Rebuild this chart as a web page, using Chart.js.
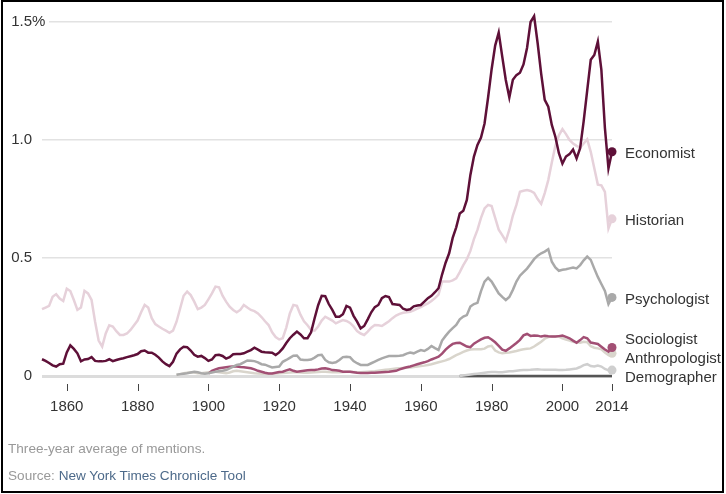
<!DOCTYPE html>
<html>
<head>
<meta charset="utf-8">
<script src="https://cdn.jsdelivr.net/npm/chart.js@4.4.1/dist/chart.umd.min.js"></script>
<style>
  html, body { margin: 0; padding: 0; background: #fff; }
  #wrap { position: relative; width: 726px; height: 494px; overflow: hidden; }
  #frame { position: absolute; left: 1px; top: 0; width: 719px; height: 489px; border: 2px solid #000; pointer-events: none; }
  .note { position: absolute; left: 8px; font: 13.6px "Liberation Sans", Arial, sans-serif; color: #999; white-space: nowrap; }
  .note a { color: #4d6a8a; text-decoration: none; }
</style>
</head>
<body>
<div id="wrap">
  <canvas id="chart"></canvas>
  <div class="note" style="top:441px">Three-year average of mentions.</div>
  <div class="note" style="top:468px">Source: <a>New York Times Chronicle Tool</a></div>
  <div id="frame"></div>
</div>
<script>
// x axis ticks and y axis ticks
const xTicks = [1860, 1880, 1900, 1920, 1940, 1960, 1980, 2000, 2014];
const yTicks = [0, 0.5, 1.0, 1.5];

// series values, one value a year, starting at each series' first year
const economistStart = 1853;
const economist = [
  0.071, 0.064, 0.055, 0.045, 0.040, 0.050, 0.052, 0.100, 0.130, 0.115, // 1853-1862
  0.096, 0.062, 0.070, 0.072, 0.080, 0.064, 0.062, 0.062, 0.064, 0.071, // 1863-1872
  0.063, 0.068, 0.072, 0.075, 0.080, 0.084, 0.088, 0.093, 0.105, 0.108, // 1873-1882
  0.099, 0.099, 0.090, 0.078, 0.062, 0.050, 0.042, 0.060, 0.095, 0.113, // 1883-1892
  0.124, 0.122, 0.108, 0.090, 0.082, 0.085, 0.076, 0.064, 0.070, 0.088, // 1893-1902
  0.090, 0.085, 0.074, 0.080, 0.092, 0.093, 0.093, 0.096, 0.103, 0.110, // 1903-1912
  0.120, 0.112, 0.103, 0.101, 0.100, 0.099, 0.089, 0.100, 0.117, 0.140, // 1913-1922
  0.160, 0.175, 0.188, 0.176, 0.160, 0.160, 0.185, 0.245, 0.300, 0.340, // 1923-1932
  0.338, 0.305, 0.280, 0.251, 0.251, 0.262, 0.297, 0.290, 0.255, 0.230, // 1933-1942
  0.202, 0.212, 0.240, 0.270, 0.292, 0.301, 0.330, 0.339, 0.335, 0.305, // 1943-1952
  0.303, 0.301, 0.285, 0.280, 0.283, 0.295, 0.299, 0.301, 0.315, 0.330, // 1953-1962
  0.340, 0.355, 0.372, 0.430, 0.480, 0.520, 0.585, 0.630, 0.689, 0.700, // 1963-1972
  0.746, 0.852, 0.930, 0.979, 1.010, 1.070, 1.180, 1.300, 1.400, 1.455, // 1973-1982
  1.353, 1.254, 1.180, 1.255, 1.275, 1.285, 1.320, 1.390, 1.500, 1.525, // 1983-1992
  1.410, 1.280, 1.170, 1.141, 1.064, 1.014, 0.944, 0.900, 0.930, 0.940, // 1993-2002
  0.960, 0.922, 0.965, 1.080, 1.210, 1.340, 1.360, 1.417, 1.297, 1.050, // 2003-2012
  0.880, 0.950                                                          // 2013-2014
];

const historianStart = 1853;
const historian = [
  0.283, 0.290, 0.297, 0.336, 0.347, 0.328, 0.318, 0.370, 0.360, 0.322,
  0.280, 0.290, 0.361, 0.350, 0.322, 0.230, 0.150, 0.125, 0.180, 0.215,
  0.210, 0.190, 0.174, 0.174, 0.180, 0.195, 0.215, 0.235, 0.270, 0.301,
  0.290, 0.245, 0.220, 0.210, 0.200, 0.192, 0.183, 0.192, 0.230, 0.285,
  0.340, 0.358, 0.343, 0.315, 0.283, 0.290, 0.301, 0.325, 0.350, 0.379,
  0.376, 0.340, 0.315, 0.294, 0.280, 0.270, 0.280, 0.301, 0.290, 0.280,
  0.275, 0.265, 0.250, 0.232, 0.216, 0.185, 0.165, 0.155, 0.160, 0.205,
  0.265, 0.301, 0.297, 0.260, 0.232, 0.215, 0.195, 0.192, 0.210, 0.235,
  0.251, 0.243, 0.235, 0.223, 0.230, 0.237, 0.233, 0.225, 0.210, 0.190,
  0.180, 0.174, 0.188, 0.205, 0.216, 0.215, 0.212, 0.222, 0.232, 0.245,
  0.256, 0.263, 0.268, 0.270, 0.272, 0.278, 0.285, 0.292, 0.300, 0.308,
  0.318, 0.330, 0.345, 0.400, 0.400, 0.400, 0.405, 0.414, 0.440, 0.470,
  0.495, 0.530, 0.580, 0.619, 0.670, 0.710, 0.725, 0.720, 0.670, 0.620,
  0.597, 0.572, 0.620, 0.680, 0.725, 0.781, 0.785, 0.788, 0.784, 0.776,
  0.750, 0.730, 0.775, 0.830, 0.905, 0.975, 1.020, 1.046, 1.025, 1.000,
  0.985, 0.975, 0.967, 0.985, 1.003, 0.950, 0.880, 0.811, 0.808, 0.780,
  0.625, 0.666
];

const psychologistStart = 1891;
const psychologist = [
  0.005, 0.008, 0.010, 0.012, 0.015, 0.018, 0.016, 0.012, 0.010, 0.012, // 1891-1900
  0.015, 0.018, 0.020, 0.022, 0.025, 0.032, 0.040, 0.047, 0.050, 0.058,
  0.066, 0.065, 0.063, 0.058, 0.050, 0.048, 0.042, 0.036, 0.038, 0.040,
  0.060, 0.068, 0.077, 0.086, 0.087, 0.070, 0.068, 0.068, 0.070, 0.078,
  0.088, 0.090, 0.068, 0.058, 0.055, 0.058, 0.068, 0.080, 0.082, 0.080,
  0.063, 0.054, 0.047, 0.047, 0.047, 0.054, 0.061, 0.068, 0.075, 0.080,
  0.085, 0.085, 0.085, 0.086, 0.088, 0.095, 0.099, 0.096, 0.103, 0.110,
  0.106, 0.115, 0.127, 0.118, 0.110, 0.150, 0.170, 0.188, 0.203, 0.216,
  0.240, 0.252, 0.258, 0.294, 0.305, 0.310, 0.360, 0.400, 0.416, 0.400,
  0.375, 0.350, 0.335, 0.322, 0.335, 0.365, 0.400, 0.425, 0.440, 0.455,
  0.475, 0.495, 0.510, 0.520, 0.527, 0.537, 0.484, 0.460, 0.446, 0.450,
  0.452, 0.456, 0.460, 0.456, 0.470, 0.490, 0.506, 0.492, 0.455, 0.420,
  0.390, 0.360, 0.305, 0.333
];

const sociologistStart = 1900;
const sociologist = [
  0.010, 0.022, 0.028, 0.033, 0.035, 0.037, 0.039, 0.040, 0.040, 0.038, // 1900-1909
  0.037, 0.035, 0.033, 0.028, 0.022, 0.018, 0.014, 0.011, 0.011, 0.014,
  0.017, 0.018, 0.024, 0.028, 0.022, 0.018, 0.020, 0.022, 0.024, 0.025,
  0.025, 0.028, 0.032, 0.033, 0.030, 0.025, 0.024, 0.022, 0.018, 0.018,
  0.018, 0.016, 0.014, 0.013, 0.013, 0.013, 0.014, 0.014, 0.015, 0.016,
  0.017, 0.018, 0.020, 0.022, 0.028, 0.033, 0.037, 0.040, 0.045, 0.050,
  0.054, 0.058, 0.063, 0.070, 0.076, 0.082, 0.095, 0.112, 0.125, 0.136,
  0.140, 0.141, 0.133, 0.125, 0.122, 0.137, 0.146, 0.155, 0.162, 0.164,
  0.155, 0.143, 0.128, 0.112, 0.107, 0.117, 0.128, 0.140, 0.153, 0.172,
  0.178, 0.170, 0.172, 0.171, 0.167, 0.170, 0.168, 0.167, 0.167, 0.169,
  0.171, 0.166, 0.160, 0.150, 0.141, 0.152, 0.165, 0.160, 0.142, 0.139,
  0.136, 0.124, 0.112, 0.103, 0.121
];

const anthropologistStart = 1891;
const anthropologist = [
  0.004, 0.008, 0.012, 0.014, 0.016, 0.015, 0.012, 0.012, 0.014, 0.016, // 1891-1900
  0.018, 0.018, 0.016, 0.014, 0.012, 0.015, 0.020, 0.022, 0.020, 0.018,
  0.016, 0.014, 0.012, 0.011, 0.010, 0.010, 0.010, 0.010, 0.011, 0.012,
  0.013, 0.014, 0.015, 0.016, 0.016, 0.015, 0.014, 0.014, 0.015, 0.016,
  0.017, 0.018, 0.018, 0.017, 0.016, 0.016, 0.016, 0.017, 0.018, 0.018,
  0.017, 0.016, 0.016, 0.017, 0.018, 0.019, 0.020, 0.022, 0.024, 0.026,
  0.028, 0.030, 0.032, 0.033, 0.034, 0.035, 0.036, 0.038, 0.040, 0.042,
  0.044, 0.047, 0.050, 0.054, 0.058, 0.062, 0.066, 0.072, 0.080, 0.088,
  0.095, 0.102, 0.108, 0.112, 0.113, 0.113, 0.113, 0.116, 0.125, 0.128,
  0.108, 0.100, 0.096, 0.098, 0.100, 0.103, 0.106, 0.110, 0.113, 0.115,
  0.117, 0.125, 0.135, 0.145, 0.158, 0.165, 0.167, 0.167, 0.167, 0.160,
  0.154, 0.150, 0.145, 0.143, 0.141, 0.145, 0.143, 0.126, 0.120, 0.117,
  0.113, 0.100, 0.089, 0.096
];

const demographerStart = 1971;
const demographer = [
  0.000, 0.002, 0.004, 0.006, 0.008, 0.010, 0.012, 0.014, 0.016, 0.017, // 1971-1980
  0.017, 0.016, 0.016, 0.018, 0.020, 0.020, 0.022, 0.024, 0.025, 0.025,
  0.026, 0.028, 0.029, 0.027, 0.026, 0.026, 0.027, 0.026, 0.025, 0.025,
  0.026, 0.028, 0.030, 0.032, 0.038, 0.046, 0.050, 0.042, 0.040, 0.044,
  0.040, 0.030, 0.024, 0.025
];

const seriesNames = ["Economist", "Historian", "Psychologist", "Sociologist", "Anthropologist", "Demographer"];
const seriesColors = ["#5e1038", "#e6d1da", "#a9a9a9", "#a24f74", "#d9d5cc", "#cfcfcf"];

const FONT = '"Liberation Sans", Arial, sans-serif';

function toPoints(start, values) {
  return values.map((v, i) => ({ x: start + i, y: v }));
}

const allSeries = [
  toPoints(economistStart, economist),
  toPoints(historianStart, historian),
  toPoints(psychologistStart, psychologist),
  toPoints(sociologistStart, sociologist),
  toPoints(anthropologistStart, anthropologist),
  toPoints(demographerStart, demographer),
];

//Labels, tick marks and the dark part of the zero line
const decorPlugin = {
  id: "decor",
  beforeDatasetsDraw(chart) {
    const ctx = chart.ctx;
    const x = chart.scales.x;
    const y = chart.scales.y;
    const area = chart.chartArea;
    ctx.save();

    // dark baseline under the demographer years
    ctx.strokeStyle = "#555";
    ctx.lineWidth = 2.5;
    ctx.beginPath();
    ctx.moveTo(x.getPixelForValue(demographerStart), y.getPixelForValue(0));
    ctx.lineTo(x.getPixelForValue(2014), y.getPixelForValue(0));
    ctx.stroke();

    // y labels
    ctx.font = "15px " + FONT;
    ctx.textBaseline = "middle";
    yTicks.forEach((t) => {
      const py = y.getPixelForValue(t);
      const txt = t === 0 ? "0" : t.toFixed(1);
      ctx.textAlign = "right";
      ctx.fillStyle = "#333";
      ctx.fillText(txt, area.left - 10, py);
      if (t === yTicks[yTicks.length - 1]) {
        ctx.fillStyle = "#fff";
        ctx.fillRect(area.left - 1, py - 3, 8, 6);
        ctx.fillStyle = "#333";
        ctx.textAlign = "left";
        ctx.fillText("%", area.left - 10, py);
      }
    });

    // x tick marks
    ctx.strokeStyle = "#444";
    ctx.lineWidth = 1;
    xTicks.forEach((t) => {
      const px = Math.round(x.getPixelForValue(t)) + 0.5;
      ctx.beginPath();
      ctx.moveTo(px, area.bottom + 8);
      ctx.lineTo(px, area.bottom + 15);
      ctx.stroke();
    });
    ctx.restore();
  },
  afterDatasetsDraw(chart) {
    const ctx = chart.ctx;
    const area = chart.chartArea;
    // end labels, spread so they do not overlap
    let items = chart.data.datasets.map((ds, i) => {
      const pts = chart.getDatasetMeta(i).data;
      return { name: ds.label, y: pts[pts.length - 1].y };
    });
    items.sort((a, b) => a.y - b.y);
    const gap = 19;
    let groups = items.map((it) => ({ items: [it], target: it.y }));
    let merged = true;
    while (merged) {
      merged = false;
      for (let i = 0; i < groups.length - 1; i++) {
        const a = groups[i], b = groups[i + 1];
        const aEnd = a.target + (a.items.length - 1) * gap / 2;
        const bStart = b.target - (b.items.length - 1) * gap / 2;
        if (bStart - aEnd < gap) {
          const all = a.items.concat(b.items);
          const mean = all.reduce((s, it) => s + it.y, 0) / all.length;
          groups.splice(i, 2, { items: all, target: mean });
          merged = true;
          break;
        }
      }
    }
    ctx.save();
    ctx.font = "15px " + FONT;
    ctx.fillStyle = "#333";
    ctx.textAlign = "left";
    ctx.textBaseline = "middle";
    groups.forEach((g) => {
      const top = g.target - (g.items.length - 1) * gap / 2;
      g.items.forEach((it, k) => {
        ctx.fillText(it.name, area.right + 13, top + k * gap + 2);
      });
    });
    ctx.restore();
  },
};

new Chart(document.getElementById("chart"), {
  type: "line",
  data: {
    datasets: allSeries.map((pts, i) => ({
      label: seriesNames[i],
      data: pts,
      borderColor: seriesColors[i],
      backgroundColor: seriesColors[i],
      borderWidth: 2.5,
      tension: 0,
      clip: false,
      pointRadius: (c) => (c.dataIndex === pts.length - 1 ? 4.5 : 0),
      pointHoverRadius: 0,
      pointBorderWidth: 0,
    })),
  },
  options: {
    responsive: true,
    maintainAspectRatio: false,
    animation: false,
    layout: { padding: { top: 22, right: 114, left: 0, bottom: 0 } },
    plugins: {
      legend: { display: false },
      tooltip: { enabled: false },
    },
    scales: {
      x: {
        type: "linear",
        min: 1853,
        max: 2014,
        afterBuildTicks: (s) => { s.ticks = xTicks.map((v) => ({ value: v })); },
        afterFit: (s) => { s.height = 118; },
        grid: { display: false, drawTicks: false },
        border: { display: false },
        ticks: {
          padding: 22,
          maxRotation: 0,
          autoSkip: false,
          color: "#333",
          font: { family: FONT, size: 15 },
          callback: (v) => String(v),
        },
      },
      y: {
        min: 0,
        max: 1.5,
        afterBuildTicks: (s) => { s.ticks = yTicks.map((v) => ({ value: v })); },
        afterFit: (s) => { s.width = 42; },
        border: { display: false },
        grid: {
          drawTicks: false,
          color: (c) => (c.tick && c.tick.value === 0 ? "#dcdcdc" : "#e2e2e2"),
          lineWidth: (c) => (c.tick && c.tick.value === 0 ? 3 : 1.5),
        },
        ticks: { display: false },
      },
    },
  },
  plugins: [decorPlugin],
});
</script>
</body>
</html>
